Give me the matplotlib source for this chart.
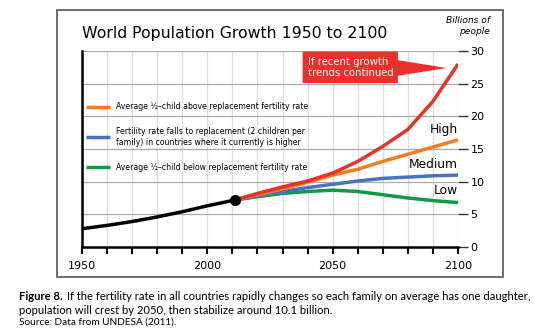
import matplotlib
matplotlib.use("Agg")
import matplotlib.pyplot as plt
from matplotlib.patches import Rectangle, Polygon

# historical world population (billions)
hist_years = [1950, 1960, 1970, 1980, 1990, 2000, 2011]
hist_pop = [2.8, 3.3, 3.9, 4.6, 5.4, 6.3, 7.2]

# projections from 2011
proj_years = [2011, 2020, 2030, 2040, 2050, 2060, 2070, 2080, 2090, 2100]
trend = [7.2, 8.2, 9.2, 10.1, 11.3, 13.1, 15.4, 18.0, 22.3, 28.0]
high = [7.2, 8.0, 8.9, 9.9, 11.0, 11.9, 13.1, 14.2, 15.3, 16.4]
medium = [7.2, 7.8, 8.5, 9.1, 9.6, 10.1, 10.5, 10.7, 10.9, 11.0]
low = [7.2, 7.7, 8.2, 8.5, 8.7, 8.5, 8.0, 7.5, 7.1, 6.8]

x_ticks = [1950, 2000, 2050, 2100]
y_ticks = [0, 5, 10, 15, 20, 25, 30]

RED = "#e8312a"
ORANGE = "#f47b20"
BLUE = "#4a72c4"
GREEN = "#0e9a48"

W, H = 547, 334
fig = plt.figure(figsize=(W / 100, H / 100), dpi=100)

# frame around the chart
fig.patches.append(Rectangle((57 / W, 1 - 277 / H), (503 - 57) / W, (277 - 10) / H,
                             transform=fig.transFigure, fill=False,
                             edgecolor="#555555", linewidth=1.2))

ax = fig.add_axes([82 / W, 1 - 247 / H, (458 - 82) / W, (247 - 51) / H])
ax.set_xlim(1950, 2100)
ax.set_ylim(0, 30)

for yr in range(1960, 2101, 10):
    ax.axvline(yr, color="#dddddd", lw=0.9, zorder=0)
for v in range(5, 31, 5):
    ax.axhline(v, color="#aaaaaa", lw=0.9, zorder=0)

for s in ["top", "right"]:
    ax.spines[s].set_visible(False)
ax.spines["left"].set_linewidth(1.8)
ax.spines["bottom"].set_linewidth(1.8)

ax.set_xticks(range(1950, 2101, 10))
ax.set_xticklabels([str(y) if y in x_ticks else "" for y in range(1950, 2101, 10)])
ax.tick_params(axis="x", direction="out", length=5, width=1.5, color="black",
               labelsize=8, pad=5)
ax.yaxis.tick_right()
ax.set_yticks(y_ticks)
ax.tick_params(axis="y", direction="out", length=7, width=1, color="#333333",
               labelsize=8, pad=2)

ax.plot(proj_years, low, color=GREEN, lw=2.5, solid_capstyle="butt", zorder=3)
ax.plot(proj_years, medium, color=BLUE, lw=2.5, solid_capstyle="butt", zorder=4)
ax.plot(proj_years, high, color=ORANGE, lw=2.5, solid_capstyle="butt", zorder=5)
ax.plot(proj_years, trend, color=RED, lw=2.5, solid_capstyle="butt", zorder=6)
ax.plot(hist_years, hist_pop, color="black", lw=2.5, zorder=7)
ax.plot(hist_years[-1], hist_pop[-1], "o", color="black", ms=7, zorder=8)

# scenario labels
ax.text(2100, 17.0, "High", ha="right", va="bottom", fontsize=8.8)
ax.text(2100, 11.7, "Medium", ha="right", va="bottom", fontsize=8.8)
ax.text(2100, 7.6, "Low", ha="right", va="bottom", fontsize=8.8)

# legend drawn inside the plot
legend_rows = [
    (ORANGE, 21.5, "Average \u00bd\u2013child above replacement fertility rate"),
    (BLUE, 16.8, "Fertility rate falls to replacement (2 children per\nfamily) in countries where it currently is higher"),
    (GREEN, 12.2, "Average \u00bd\u2013child below replacement fertility rate"),
]
for color, yv, label in legend_rows:
    ax.plot([1951.5, 1961], [yv, yv], color=color, lw=2.5, solid_capstyle="butt", zorder=5)
    ax.text(1963.5, yv, label, fontsize=5.6, va="center", ha="left", linespacing=1.3,
            zorder=5)

# callout for the recent-trends line
ax.add_patch(Polygon([(2038, 25.1), (2076, 25.1), (2076, 26.2), (2095.5, 27.4),
                      (2076, 28.6), (2076, 29.9), (2038, 29.9)],
                     closed=True, facecolor=RED, edgecolor="none", zorder=9))
ax.text(2040.3, 27.5, "If recent growth\ntrends continued", color="white",
        fontsize=7.3, va="center", ha="left", linespacing=1.15, zorder=10)

fig.text(82 / W, 1 - 38 / H, "World Population Growth 1950 to 2100",
         fontsize=11.3, ha="left", va="baseline")
fig.text(490 / W, 1 - 26 / H, "Billions of\npeople", fontsize=6.6, style="italic",
         ha="right", va="center", linespacing=1.25)

# caption under the frame
cap_font = "Lato"
bold = fig.text(19 / W, 1 - 297 / H, "Figure 8.", fontsize=8.1, fontweight="bold",
                family=cap_font, va="center", ha="left")
fig.canvas.draw()
bb = bold.get_window_extent()
fig.text(bb.x1 / W + 4 / W, 1 - 297 / H,
         "If the fertility rate in all countries rapidly changes so each family on average has one daughter,",
         fontsize=8.1, family=cap_font, va="center", ha="left")
fig.text(19 / W, 1 - 310 / H, "population will crest by 2050, then stabilize around 10.1 billion.",
         fontsize=8.1, family=cap_font, va="center", ha="left")
fig.text(19 / W, 1 - 322 / H, "Source: Data from UNDESA (2011).",
         fontsize=7.2, family=cap_font, va="center", ha="left")

fig.savefig("out.png", dpi=100)
